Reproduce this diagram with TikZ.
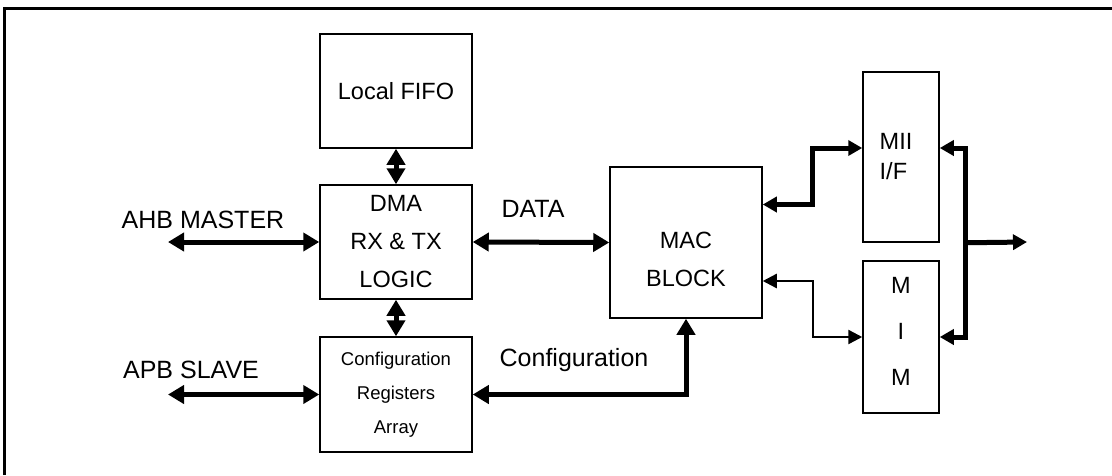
\documentclass[tikz,border=0pt]{standalone}
\usepackage{fontspec}
\setmainfont{Liberation Sans}
\usetikzlibrary{positioning, arrows.meta}
\tikzset{
  box/.style={draw, line width=1.5pt, inner sep=0pt, align=center},
  big/.style={font=\fontsize{23.5}{38}\selectfont},
  label/.style={font=\fontsize{25}{30}\selectfont, anchor=base},
  small/.style={font=\fontsize{18.5}{34}\selectfont},
  bus/.style={line width=5pt, {Triangle[length=16pt,width=18pt]}-{Triangle[length=16pt,width=18pt]}},
  wire/.style={line width=2.4pt, {Triangle[length=14pt,width=14pt]}-{Triangle[length=14pt,width=14pt]}},
}
\begin{document}
\begin{tikzpicture}[x=1pt,y=-1pt]
\useasboundingbox (0,0) rectangle (1112,475);
\draw [line width=3pt] (4,475) -- (4,8) -- (1112,8);
	% Blocks
\node [box, big, minimum width=152pt, minimum height=114pt] (fifo) at (396,91) {\raisebox{-9pt}{Local FIFO}};
\node [box, big, minimum width=152pt, minimum height=114pt] (dma) at (396,242) {DMA\\RX \& TX\\LOGIC};
\node [box, small, minimum width=152pt, minimum height=115pt] (cfg) at (396,394.5) {Configuration\\Registers\\Array};
\node [box, minimum width=152pt, minimum height=151pt] (mac) at (686,242.5) {};
\node [big, align=center] (mactxt) at ([yshift=-17pt]mac.center) {MAC\\BLOCK};
\node [box, minimum width=76pt, minimum height=170pt] (mii) at (901,157) {};
\node [big, align=left, font=\fontsize{23.5}{30}\selectfont] (miitxt) at (896,157) {MII\\I/F};
\node [box, minimum width=76pt, minimum height=152pt] (mim) at (901,337) {};
\node [big, align=center, font=\fontsize{23.5}{46}\selectfont] (mimtxt) at ([yshift=6pt]mim.center) {M\\I\\M};
	% Labels
\node [label] (ahb) at (203,228) {AHB MASTER};
\node [label] (data) at (533,217) {DATA};
\node [label] (apb) at (191,378) {APB SLAVE};
\node [label] (conf) at (574,366) {Configuration};
\coordinate (ahbend) at (168,242);
\coordinate (apbend) at (168,394.5);
\coordinate (out) at (1027,242);
	% Connectors
\draw [bus] (ahbend) -- (dma.west);
\draw [bus] (apbend) -- (cfg.west);
\draw [bus] (dma.east) -- (mac.west);
\draw [bus] (fifo.south) -- (dma.north);
\draw [bus] (dma.south) -- (cfg.north);
\draw [bus] (cfg.east) -| (mac.south);
\draw [bus, {Triangle[length=14pt,width=15pt]}-{Triangle[length=14pt,width=15pt]}] ([yshift=38pt]mac.east) -- ++(50,0) |- ([yshift=9pt]mii.west);
\draw [wire] ([yshift=-38.5pt]mac.east) -- ++(50,0) |- (mim.west);
\draw [bus, {Triangle[length=14pt,width=15pt]}-{Triangle[length=14pt,width=15pt]}] ([yshift=9pt]mii.east) -- ++(26,0) coordinate (bt) |- (mim.east);
\draw [line width=5pt, -{Triangle[length=14pt,width=15pt]}] (bt |- mii.south) -- (out);
\end{tikzpicture}
\end{document}
